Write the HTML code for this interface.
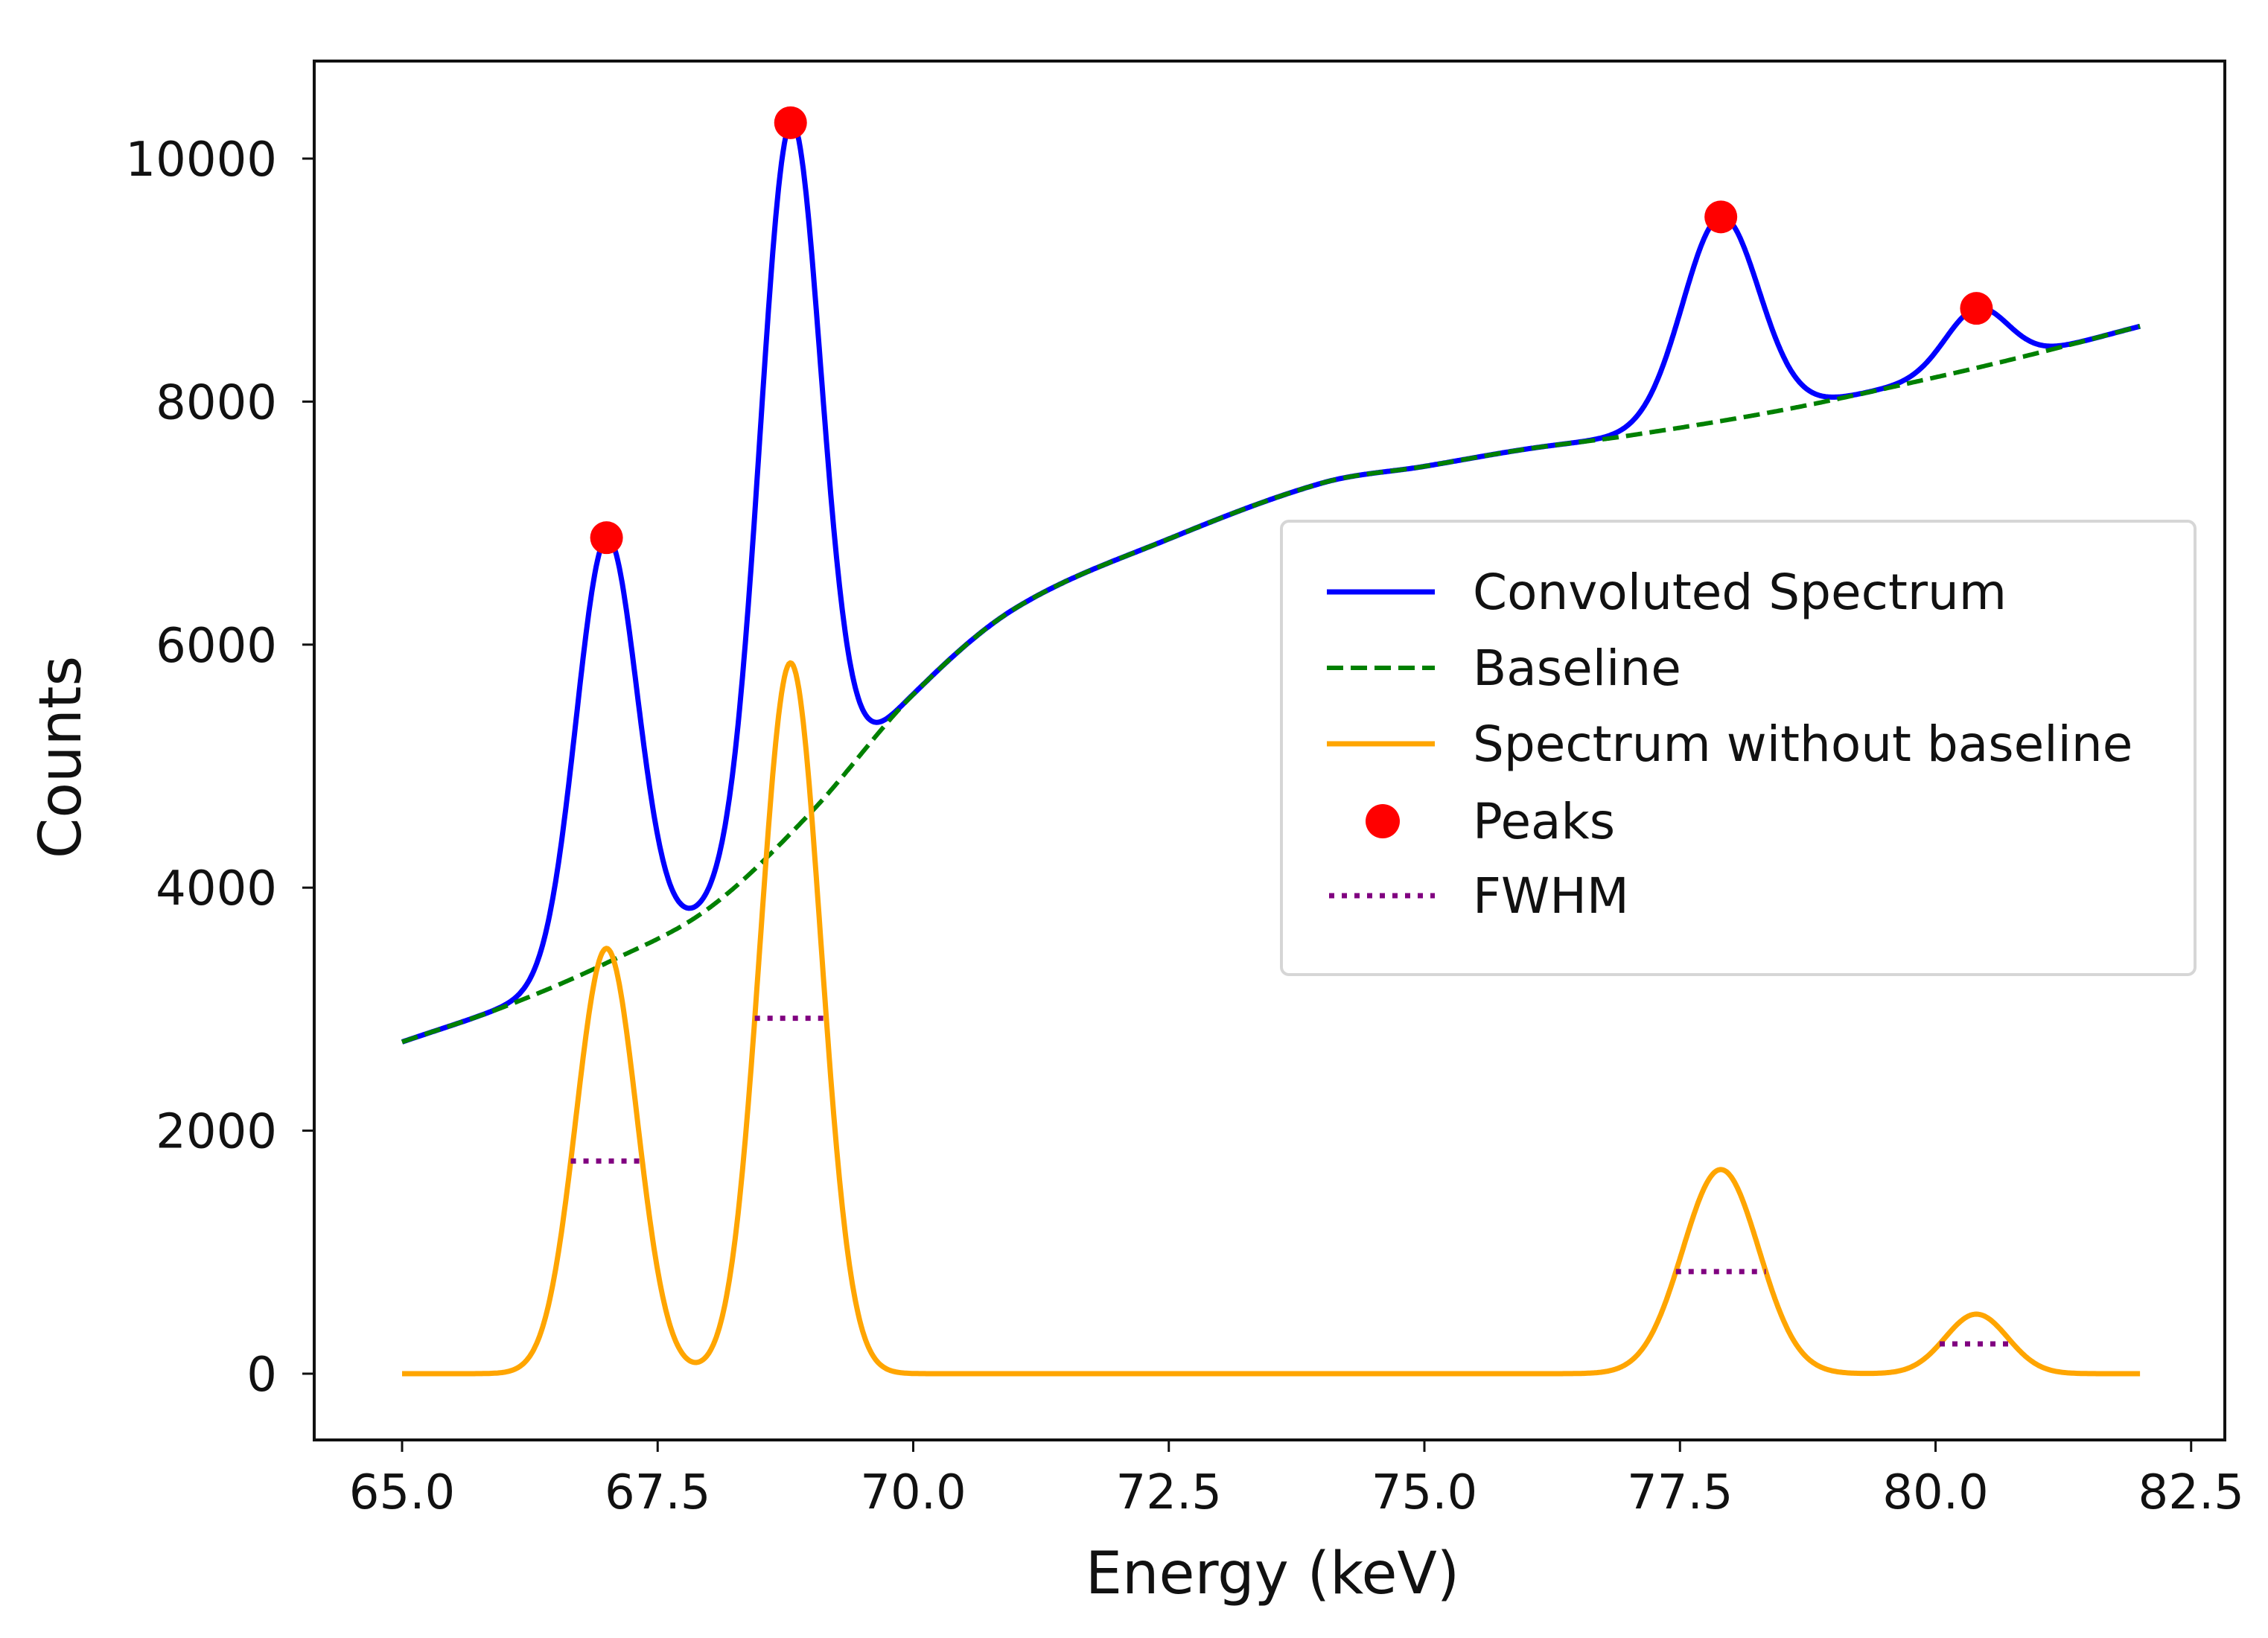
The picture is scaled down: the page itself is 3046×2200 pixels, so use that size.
<!DOCTYPE html>
<html><head><meta charset="utf-8"><style>
html,body{margin:0;padding:0;background:#fff;}
svg{display:block;font-family:"DejaVu Sans","Liberation Sans",sans-serif;}
</style></head><body>
<svg id="chart" width="3046" height="2200" viewBox="0 0 3046 2200" xmlns="http://www.w3.org/2000/svg">
<rect x="0" y="0" width="3046" height="2200" fill="#fff"/>
<g id="plot"></g>
<g id="axes"></g>
<text x="1709" y="2140" font-size="78" text-anchor="middle" fill="#111">Energy (keV)</text>
<text x="0" y="0" font-size="78" text-anchor="middle" fill="#111" transform="translate(108,1017) rotate(-90)">Counts</text>
<g>
<rect x="1721" y="700" width="1227" height="609" rx="10" fill="#fff" fill-opacity="0.8" stroke="#d6d6d6" stroke-width="4"/>
<g>
<line x1="1782" y1="795" x2="1927" y2="795" stroke="#0000ff" stroke-width="7"/>
<text x="1978" y="818" font-size="66" fill="#111">Convoluted Spectrum</text></g>
<g>
<line x1="1782" y1="897" x2="1927" y2="897" stroke="#008000" stroke-width="6" stroke-dasharray="22 10"/>
<text x="1978" y="920" font-size="66" fill="#111">Baseline</text></g>
<g>
<line x1="1782" y1="999" x2="1927" y2="999" stroke="#ffa500" stroke-width="7"/>
<text x="1978" y="1022" font-size="66" fill="#111">Spectrum without baseline</text></g>
<g>
<circle cx="1857" cy="1103" r="23" fill="#ff0000"/>
<text x="1978" y="1126" font-size="66" fill="#111">Peaks</text></g>
<g>
<line x1="1785" y1="1203" x2="1927" y2="1203" stroke="#800080" stroke-width="7" stroke-dasharray="7 10"/>
<text x="1978" y="1226" font-size="66" fill="#111">FWHM</text></g>
</g>
</svg>
<script>
// ---- data ----
const peakCenters = [67.0, 68.8, 77.9, 80.4];
const peakHeights = [3500, 5850, 1680, 490];
const peakFwhm = [0.7, 0.7, 0.88, 0.72];
const baselineEnergy = [65, 66, 67, 68, 69, 70, 71, 72.5, 74, 75, 76, 77, 78.5, 80, 81, 82];
const baselineCounts = [2730, 3020, 3380, 3830, 4620, 5590, 6300, 6870, 7330, 7467, 7610, 7720, 7930, 8200, 8400, 8620];
const xTicks = [65.0, 67.5, 70.0, 72.5, 75.0, 77.5, 80.0, 82.5];
const xTickLabels = ["65.0", "67.5", "70.0", "72.5", "75.0", "77.5", "80.0", "82.5"];
const yTicks = [0, 2000, 4000, 6000, 8000, 10000];
const yTickLabels = ["0", "2000", "4000", "6000", "8000", "10000"];
const energyRange = [65, 82];

// ---- scales ----
const AX = {left: 422, right: 2988, top: 82, bottom: 1934};
function sx(v){ return 540 + (v - 65) * 137.3; }
function sy(v){ return 1845 - v * 0.1632; }
const NS = "http://www.w3.org/2000/svg";
function mk(tag, attrs, parent){ const e = document.createElementNS(NS, tag); for (const k in attrs) e.setAttribute(k, attrs[k]); parent.appendChild(e); return e; }

function baseline(x){
  const X = baselineEnergy, Y = baselineCounts;
  if (x <= X[0]) return Y[0];
  if (x >= X[X.length-1]) return Y[Y.length-1];
  let i = 0; while (x > X[i+1]) i++;
  const x0 = X[Math.max(i-1,0)], x1 = X[i], x2 = X[i+1], x3 = X[Math.min(i+2, X.length-1)];
  const y0 = Y[Math.max(i-1,0)], y1 = Y[i], y2 = Y[i+1], y3 = Y[Math.min(i+2, Y.length-1)];
  const m1 = (y2 - y0) / (x2 - x0 || 1), m2 = (y3 - y1) / (x3 - x1 || 1);
  const h = x2 - x1, t = (x - x1) / h;
  const t2 = t*t, t3 = t2*t;
  return (2*t3-3*t2+1)*y1 + (t3-2*t2+t)*h*m1 + (-2*t3+3*t2)*y2 + (t3-t2)*h*m2;
}
function netSpectrum(x){
  let s = 0;
  for (let i = 0; i < peakCenters.length; i++){
    const sg = peakFwhm[i] / 2.3548;
    s += peakHeights[i] * Math.exp(-0.5 * Math.pow((x - peakCenters[i]) / sg, 2));
  }
  return s;
}

const plot = document.getElementById('plot');
const axes = document.getElementById('axes');
const N = 1200;
let pb = "", po = "", pc = "";
for (let k = 0; k <= N; k++){
  const x = energyRange[0] + (energyRange[1] - energyRange[0]) * k / N;
  const b = baseline(x), o = netSpectrum(x);
  const c = (k === 0 ? "M" : "L");
  pb += c + sx(x).toFixed(1) + "," + sy(b).toFixed(1);
  po += c + sx(x).toFixed(1) + "," + sy(o).toFixed(1);
  pc += c + sx(x).toFixed(1) + "," + sy(b + o).toFixed(1);
}
const lc = mk('path', {d: pc, fill: 'none', stroke: '#0000ff', 'stroke-width': 7, 'stroke-linejoin': 'round'}, plot);


const lb = mk('path', {d: pb, fill: 'none', stroke: '#008000', 'stroke-width': 6, 'stroke-dasharray': '22 10'}, plot);


const lo = mk('path', {d: po, fill: 'none', stroke: '#ffa500', 'stroke-width': 7, 'stroke-linejoin': 'round'}, plot);



for (let i = 0; i < peakCenters.length; i++){
  const c = peakCenters[i], h = peakHeights[i], f = peakFwhm[i];
  const fl = mk('line', {x1: sx(c - f/2), x2: sx(c + f/2), y1: sy(h/2), y2: sy(h/2), stroke: '#800080', 'stroke-width': 7, 'stroke-dasharray': '7 10'}, plot);
  
  
  const pk = mk('circle', {cx: sx(c), cy: sy(baseline(c) + netSpectrum(c)), r: 22, fill: '#ff0000'}, plot);
  
  
}

const fr = mk('rect', {x: AX.left, y: AX.top, width: AX.right - AX.left, height: AX.bottom - AX.top, fill: 'none', stroke: '#111', 'stroke-width': 4}, axes);


for (let i = 0; i < xTicks.length; i++){
  const x = sx(xTicks[i]);
  const t = mk('line', {x1: x, x2: x, y1: AX.bottom, y2: AX.bottom + 16, stroke: '#111', 'stroke-width': 3}, axes);
  
  
  const l = mk('text', {x: x, y: 2026, 'font-size': 64, 'text-anchor': 'middle', fill: '#111'}, axes);
  l.textContent = xTickLabels[i];
  
  
}
for (let i = 0; i < yTicks.length; i++){
  const y = sy(yTicks[i]);
  const t = mk('line', {x1: AX.left - 16, x2: AX.left, y1: y, y2: y, stroke: '#111', 'stroke-width': 3}, axes);
  
  
  const l = mk('text', {x: 372, y: y + 23, 'font-size': 64, 'text-anchor': 'end', fill: '#111'}, axes);
  l.textContent = yTickLabels[i];
  
  
}
</script>
</body></html>
